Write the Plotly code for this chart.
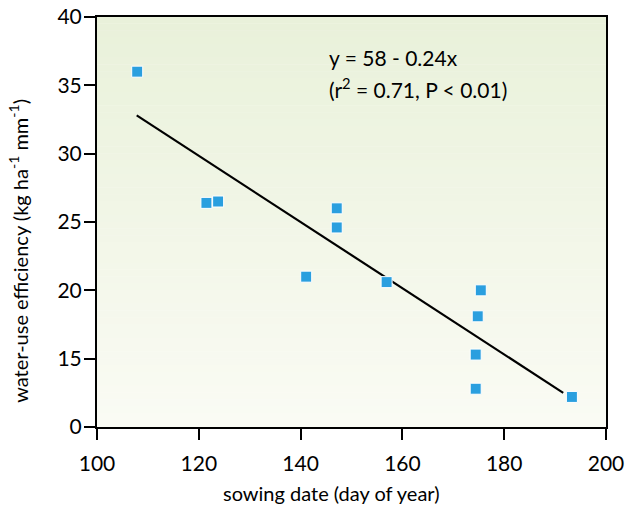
import plotly.graph_objects as go

# Data
sowing_day = [107.9, 121.5, 123.8, 141.1, 147.1, 147.1, 156.9, 174.4, 174.4, 174.8, 175.4, 193.3]
wue = [36.0, 26.4, 26.5, 21.0, 26.0, 24.6, 20.6, 15.3, 12.8, 18.1, 20.0, 12.2]

fit_x = [107.8, 191.6]
fit_y = [32.8, 12.5]

y_tickvals = [10, 15, 20, 25, 30, 35, 40]
y_ticktext = ["0", "15", "20", "25", "30", "35", "40"]
x_tickvals = [100, 120, 140, 160, 180, 200]

FONT = "Lato, 'Open Sans', sans-serif"

fig = go.Figure()

# gradient background bands
n = 60
top = (233, 241, 218)
bot = (250, 251, 244)
shapes = []
for i in range(n):
    t = i / (n - 1)
    c = tuple(round(top[k] + (bot[k] - top[k]) * t) for k in range(3))
    shapes.append(dict(type="rect", xref="x domain", yref="y domain",
                       x0=0, x1=1, y0=1 - (i + 1) / n, y1=1 - i / n + 0.001,
                       fillcolor="rgb(%d,%d,%d)" % c, line=dict(width=0),
                       layer="below"))

fig.add_trace(go.Scatter(x=fit_x, y=fit_y, mode="lines",
                         line=dict(color="black", width=2.2),
                         showlegend=False, hoverinfo="skip"))
fig.add_trace(go.Scatter(x=sowing_day, y=wue, mode="markers",
                         marker=dict(symbol="square", size=11, color="#2a9fdf",
                                     line=dict(color="white", width=1)),
                         showlegend=False))

fig.add_annotation(x=0.452, y=0.902, xref="paper", yref="paper",
                   xanchor="left", yanchor="middle", showarrow=False,
                   text="y = 58 - 0.24x",
                   font=dict(family=FONT, size=21, color="black"))
fig.add_annotation(x=0.452, y=0.826, xref="paper", yref="paper",
                   xanchor="left", yanchor="middle", showarrow=False,
                   text="(r<sup>2</sup> = 0.71, P &lt; 0.01)",
                   font=dict(family=FONT, size=21, color="black"))

# axis titles
fig.add_annotation(x=0.46, y=-0.161, xref="paper", yref="paper",
                   xanchor="center", yanchor="middle", showarrow=False,
                   text="sowing date (day of year)",
                   font=dict(family=FONT, size=20, color="black"))
fig.add_annotation(x=-0.155, y=0.43, xref="paper", yref="paper",
                   xanchor="center", yanchor="middle", showarrow=False,
                   textangle=-90,
                   text="water-use efficiency (kg ha<sup>-1</sup> mm<sup>-1</sup>)",
                   font=dict(family=FONT, size=20, color="black"))

fig.update_layout(
    width=630, height=519,
    margin=dict(l=97, r=24, t=17, b=92),
    paper_bgcolor="white",
    plot_bgcolor="white",
    shapes=shapes,
    font=dict(family=FONT, size=20, color="black"),
    xaxis=dict(range=[100, 200], tickvals=x_tickvals, showgrid=False,
               automargin=False,
               zeroline=False, showline=True, linecolor="black", linewidth=2,
               mirror=True, ticks="outside", ticklen=11, tickwidth=2,
               tickcolor="black", tickfont=dict(size=21),
               ticklabelstandoff=6),
    yaxis=dict(range=[10, 40], tickvals=y_tickvals, ticktext=y_ticktext,
               automargin=False,
               showgrid=False, zeroline=False, showline=True, linecolor="black",
               linewidth=2, mirror=True, ticks="outside", ticklen=11,
               tickwidth=2, tickcolor="black", tickfont=dict(size=21),
               ticklabelstandoff=-2),
)

fig.write_html("out.html", config={"displayModeBar": False},
               post_script="document.body.style.margin='0';document.body.style.overflow='hidden';")
